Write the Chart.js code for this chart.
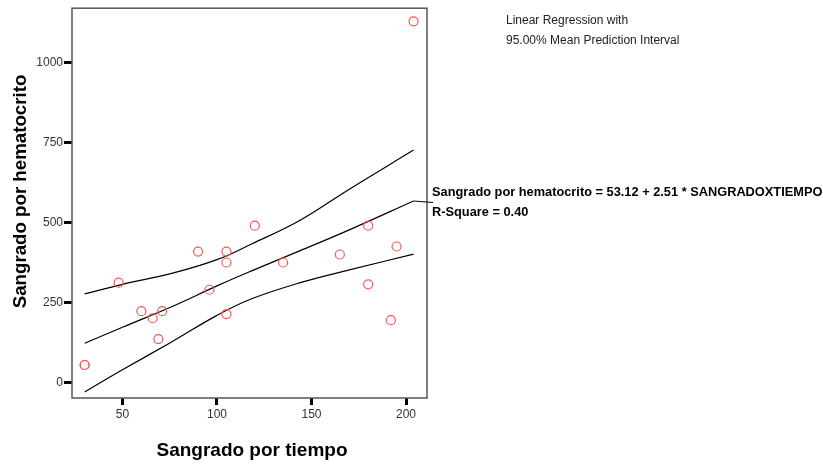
<!DOCTYPE html>
<html>
<head>
<meta charset="utf-8">
<script src="https://cdn.jsdelivr.net/npm/chart.js@4.4.1/dist/chart.umd.min.js"></script>
<style>
  html, body { margin: 0; padding: 0; background: #fff; }
  #wrap { width: 823px; height: 466px; }
</style>
</head>
<body>
<div id="wrap"><canvas id="grafico"></canvas></div>
<script>
// Datos
const tiempo = [30, 30, 48, 60, 66, 69, 71, 90, 96, 105, 105, 105, 120, 135, 165, 180, 180, 192, 195, 204];
const hematocrito = [55, 55, 312, 223, 201, 136, 223, 409, 290, 409, 375, 214, 490, 375, 400, 490, 307, 195, 425, 1128];

// Recta de regresion y banda del 95%
const bandaX = [30, 50, 76, 100, 118, 144, 170, 204];
const ajuste = [123, 173, 237, 302, 348, 412, 477, 567];
const superior = [277, 307, 341, 384, 432, 507, 604, 726];
const inferior = [-29, 40, 127, 210, 261, 312, 352, 401];

const ticksX = [50, 100, 150, 200];
const ticksY = [0, 250, 500, 750, 1000];

const tituloX = 'Sangrado por tiempo';
const tituloY = 'Sangrado por hematocrito';

const aPuntos = (xs, ys) => xs.map((x, i) => ({ x: x, y: ys[i] }));

const linea = (datos) => ({
    data: datos,
    showLine: true,
    borderColor: '#000',
    borderWidth: 1.2,
    pointRadius: 0,
    tension: 0.4,
    fill: false
});

// Caja del grafico, titulos, textos de la derecha y linea guia
const marco = {
    id: 'marco',
    afterDraw(chart) {
        const ctx = chart.ctx;
        const a = chart.chartArea;
        ctx.save();
        ctx.strokeStyle = '#555';
        ctx.lineWidth = 1.5;
        ctx.strokeRect(a.left, a.top, a.right - a.left, a.bottom - a.top);

        // titulos de los ejes
        ctx.fillStyle = '#000';
        ctx.textAlign = 'center';
        ctx.textBaseline = 'alphabetic';
        ctx.font = 'bold 19px "Liberation Sans", Arial';
        ctx.fillText(tituloX, 252, 456);
        ctx.save();
        ctx.translate(26, 191.5);
        ctx.rotate(-Math.PI / 2);
        ctx.font = 'bold 18.7px "Liberation Sans", Arial';
        ctx.fillText(tituloY, 0, 0);
        ctx.restore();

        ctx.textAlign = 'left';
        ctx.fillStyle = '#222';
        ctx.font = '12px "Liberation Sans", Arial';
        ctx.textBaseline = 'middle';
        ctx.fillText('Linear Regression with', 506, 21);
        ctx.fillText('95.00% Mean Prediction Interval', 506, 41);

        ctx.fillStyle = '#000';
        ctx.font = 'bold 12.8px "Liberation Sans", Arial';
        ctx.fillText('Sangrado por hematocrito = 53.12 + 2.51 * SANGRADOXTIEMPO', 432, 192);
        ctx.fillText('R-Square = 0.40', 432, 212);

        const sx = chart.scales.x.getPixelForValue(bandaX[bandaX.length - 1]);
        const sy = chart.scales.y.getPixelForValue(ajuste[ajuste.length - 1]);
        ctx.strokeStyle = '#000';
        ctx.lineWidth = 1;
        ctx.beginPath();
        ctx.moveTo(sx, sy);
        ctx.lineTo(433, sy + 1.5);
        ctx.stroke();
        ctx.restore();
    }
};

new Chart(document.getElementById('grafico'), {
    type: 'scatter',
    data: {
        datasets: [
            {
                data: aPuntos(tiempo, hematocrito),
                pointStyle: 'circle',
                pointRadius: 4.5,
                pointBorderColor: '#ff5555',
                pointBackgroundColor: 'rgba(0,0,0,0)',
                pointBorderWidth: 1.2
            },
            linea(aPuntos(bandaX, superior)),
            linea(aPuntos(bandaX, ajuste)),
            linea(aPuntos(bandaX, inferior))
        ]
    },
    options: {
        responsive: true,
        maintainAspectRatio: false,
        animation: false,
        layout: { padding: { top: 6, right: 396, left: 0, bottom: 0 } },
        plugins: {
            legend: { display: false },
            tooltip: { enabled: false }
        },
        scales: {
            x: {
                type: 'linear',
                min: 23.3,
                max: 211.1,
                afterBuildTicks: (s) => { s.ticks = ticksX.map(v => ({ value: v })); },
                afterFit: (s) => { s.height = 68; },
                grid: { drawOnChartArea: false, drawTicks: true, tickLength: 7, tickColor: '#000', tickWidth: 3 },
                border: { display: false },
                ticks: { color: '#333', padding: 2, font: { family: '"Liberation Sans", Arial', size: 12 } },
                title: { display: false }
            },
            y: {
                type: 'linear',
                min: -48,
                max: 1169,
                afterBuildTicks: (s) => { s.ticks = ticksY.map(v => ({ value: v })); },
                afterFit: (s) => { s.width = 72; },
                grid: { drawOnChartArea: false, drawTicks: true, tickLength: 8, tickColor: '#000', tickWidth: 3 },
                border: { display: false },
                ticks: {
                    color: '#333',
                    padding: 1,
                    font: { family: '"Liberation Sans", Arial', size: 12 },
                    callback: (v) => String(v)
                },
                title: { display: false }
            }
        }
    },
    plugins: [marco]
});
</script>
</body>
</html>
